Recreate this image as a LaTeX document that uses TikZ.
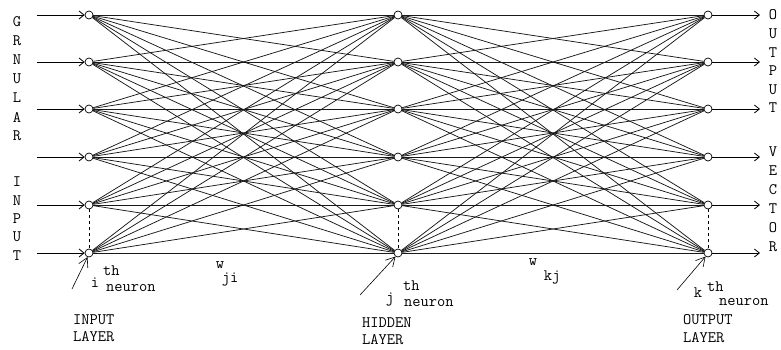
\documentclass[tikz,border=0pt]{standalone}
\usepackage{fontspec}
\usetikzlibrary{arrows.meta}
\tikzset{neuron/.style={circle,draw,fill=white,line width=0.7pt,inner sep=0pt,minimum size=8pt},
    conn/.style={black!90,line width=0.75pt},
    feed/.style={-{Straight Barb[length=5pt,width=8pt]},line width=0.8pt},
    pointer/.style={-{Straight Barb[length=9pt,width=10pt]},line width=0.6pt},
    lbl/.style={font=\ttfamily\fontsize{16}{18}\selectfont,inner sep=0pt},
}

\begin{document}
\begin{tikzpicture}[x=1pt,y=-1pt]
\useasboundingbox (0,0) rectangle (781,350);
% the three layers
\foreach \r/\y in {1/15,2/62,3/109,4/157,5/205,6/253}{
  \node[neuron] (i\r) at (89,\y) {};
  \node[neuron] (h\r) at (398,\y) {};
  \node[neuron] (o\r) at (708,\y) {};
  \coordinate (s\r) at (37,\y);
  \coordinate (t\r) at (760,\y);
}
% weights
\foreach \a in {1,...,6}
  \foreach \b in {1,...,6}{
    \draw[conn] (i\a) -- (h\b);
    \draw[conn] (h\a) -- (o\b);
  }
% inputs and outputs
\foreach \r in {1,...,6}{
  \draw[feed] (s\r) -- (i\r);
  \draw[feed] (o\r) -- (t\r);
}
\draw[dashed,line width=0.7pt] (i5) -- (i6);
\draw[dashed,line width=0.7pt] (h5) -- (h6);
\draw[dashed,line width=0.7pt] (o5) -- (o6);
% side letters
\foreach \l [count=\n] in {G,R,N,U,L,A,R}
  \node[lbl] (gl\n) at (17,{22+19*(\n-1)}) {\l};
\foreach \l [count=\n] in {I,N,P,U,T}
  \node[lbl] (il\n) at (17,{182+18.3*(\n-1)}) {\l};
\foreach \l [count=\n] in {O,U,T,P,U,T}
  \node[lbl] (ol\n) at (773,{15+18.6*(\n-1)}) {\l};
\foreach \l [count=\n] in {V,E,C,T,O,R}
  \node[lbl] (vl\n) at (773,{152+19*(\n-1)}) {\l};
% pointers to the neurons
\coordinate (pi) at (72,289);
\coordinate (pj) at (360,295);
\coordinate (pk) at (677,290);
\draw[pointer] (pi) -- (i6.250);
\draw[pointer] (pj) -- (h6.235);
\draw[pointer] (pk) -- (o6.235);
\node[lbl] (ni) at (95,283) {i};
\node[lbl,anchor=west] (nith) at (103,271) {th};
\node[lbl,anchor=west] (nin) at (106,288) {neuron};
\node[lbl] (nj) at (390,300) {j};
\node[lbl,anchor=west] (njth) at (403,286) {th};
\node[lbl,anchor=west] (njn) at (404,303) {neuron};
\node[lbl] (nk) at (698,293) {k};
\node[lbl,anchor=west] (nkth) at (707,287) {th};
\node[lbl,anchor=west] (nkn) at (719,302) {neuron};
% weight labels
\node[lbl] (wji) at (220,265) {w};
\node[lbl] (wjis) at (230,280) {ji};
\node[lbl] (wkj) at (533,262) {w};
\node[lbl] (wkjs) at (552,277) {kj};
% layer names
\node[lbl,anchor=west] (inl) at (73,320) {INPUT};
\node[lbl,anchor=west] (inl2) at (73,337) {LAYER};
\node[lbl,anchor=west] (hil) at (362,323) {HIDDEN};
\node[lbl,anchor=west] (hil2) at (362,340) {LAYER};
\node[lbl,anchor=west] (oul) at (683,320) {OUTPUT};
\node[lbl,anchor=west] (oul2) at (683,338) {LAYER};
\end{tikzpicture}
\end{document}
